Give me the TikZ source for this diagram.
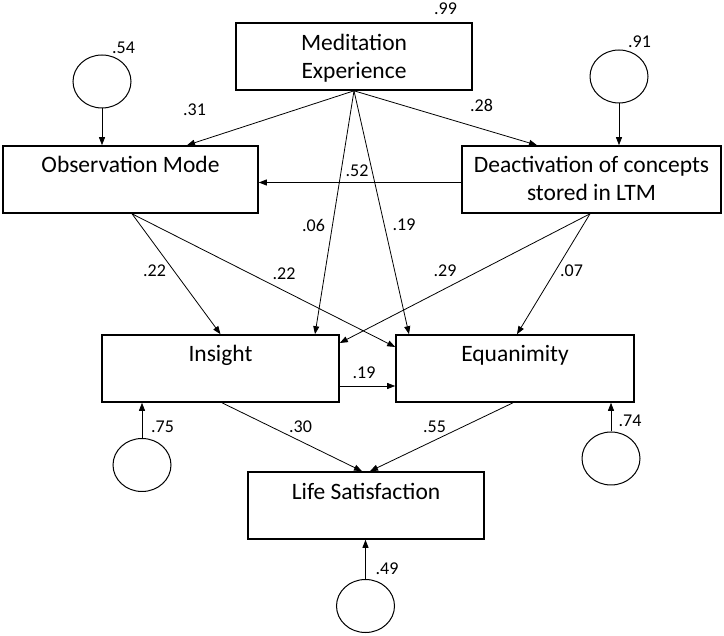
\documentclass[tikz,border=0pt]{standalone}
\usepackage{fontspec}
\setmainfont{Carlito}
\usetikzlibrary{arrows.meta,shapes.geometric}
\begin{document}
\begin{tikzpicture}[x=1pt,y=-1pt,
  box/.style={draw, line width=1.6pt, rectangle, inner sep=0pt, minimum height=67pt},
  boxtext/.style={font=\fontsize{23.5}{28}\selectfont, inner sep=0pt, anchor=base, align=center},
  err/.style={draw, line width=1pt, ellipse, inner sep=0pt, minimum width=58pt, minimum height=53pt},
  coef/.style={font=\fontsize{18}{21}\selectfont, inner sep=0pt, anchor=base},
  path/.style={line width=0.8pt, -{Triangle[length=8pt,width=6pt]}}]
\useasboundingbox (0,0) rectangle (724,636);
\fill[white] (0,0) rectangle (724,636);
% boxes
\node[box, minimum width=236pt] (med) at (354,56.5) {};
\node[box, minimum width=255pt] (obs) at (130.5,179.5) {};
\node[box, minimum width=259pt] (deact) at (591.5,179.5) {};
\node[box, minimum width=237pt] (ins) at (220.5,368.5) {};
\node[box, minimum width=238pt] (equ) at (515,368.5) {};
\node[box, minimum width=236pt] (ls) at (366,505.5) {};
% box texts
\node[boxtext] (medt1) at (354,51) {Meditation};
\node[boxtext] (medt2) at (354,79) {Experience};
\node[boxtext] (obst) at (130.5,173) {Observation Mode};
\node[boxtext] (deactt1) at (591.5,173) {Deactivation of concepts};
\node[boxtext] (deactt2) at (591.5,201) {stored in LTM};
\node[boxtext] (inst) at (220.5,362) {Insight};
\node[boxtext] (equt) at (515,362) {Equanimity};
\node[boxtext] (lst) at (366,500) {Life Satisfaction};
% error terms
\node[err] (e1) at (102,81.5) {};
\node[err] (e2) at (619,76.5) {};
\node[err] (e3) at (142,465) {};
\node[err] (e4) at (611,458.5) {};
\node[err] (e5) at (365.5,606) {};
% paths
\draw[path] (med.south) -- ([xshift=56.5pt]obs.north);
\draw[path] (med.south) -- ([xshift=-54.5pt]deact.north);
\draw[path] ([yshift=-3pt]deact.west) -- ([yshift=-3pt]obs.east);
\draw[path] (med.south) -- ([xshift=94.5pt]ins.north);
\draw[path] (med.south) -- ([xshift=-106pt]equ.north);
\draw[path] ([xshift=1.5pt]obs.south) -- (ins.north);
\draw[path] ([xshift=1.5pt]obs.south) -- ([yshift=21.5pt]equ.west);
\draw[path] ([xshift=-1.5pt]deact.south) -- ([yshift=25.5pt]ins.east);
\draw[path] ([xshift=-1.5pt]deact.south) -- ([xshift=2pt]equ.north);
\draw[path] ([yshift=-17.5pt]ins.east) -- ([yshift=-17.5pt]equ.west);
\draw[path] ([xshift=1.5pt]ins.south) -- ([xshift=-4pt]ls.north);
\draw[path] ([xshift=-2pt]equ.south) -- ([xshift=4pt]ls.north);
\draw[path] (e1.south) -- (e1.south |- obs.north);
\draw[path] (e2.south) -- (e2.south |- deact.north);
\draw[path] (e3.north) -- (e3.north |- ins.south);
\draw[path] (e4.north) -- (e4.north |- equ.south);
\draw[path] (e5.north) -- (e5.north |- ls.south);
% coefficients
\node[coef] (c99) at (445.5,15) {.99};
\node[coef] (c54) at (123.5,54) {.54};
\node[coef] (c31) at (194.5,116) {.31};
\node[coef] (c28) at (481.5,112) {.28};
\node[coef] (c91) at (639.5,48) {.91};
\node[coef] (c52) at (357,177) {.52};
\node[coef] (c06) at (313.5,232) {.06};
\node[coef] (c22a) at (154.5,277) {.22};
\node[coef] (c22b) at (284,280) {.22};
\node[coef] (c19a) at (404,231) {.19};
\node[coef] (c29) at (445,277) {.29};
\node[coef] (c07) at (571.5,277) {.07};
\node[coef] (c19b) at (364,379) {.19};
\node[coef] (c30) at (300.5,433) {.30};
\node[coef] (c55) at (434.5,433) {.55};
\node[coef] (c49) at (387,575) {.49};
\node[coef] (c75) at (162.5,433) {.75};
\node[coef] (c74) at (630,427) {.74};
\end{tikzpicture}
\end{document}
